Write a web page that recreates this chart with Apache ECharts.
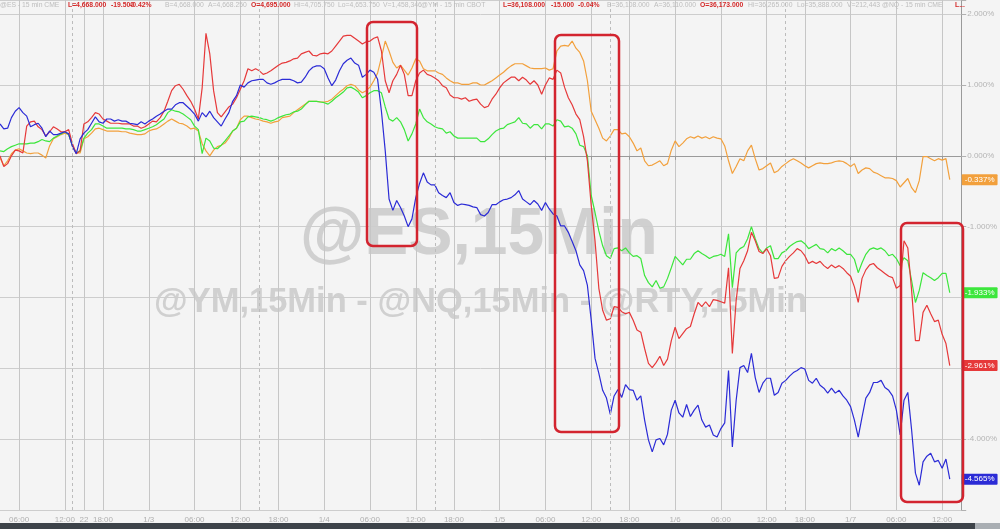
<!DOCTYPE html>
<html><head><meta charset="utf-8">
<script src="https://cdn.jsdelivr.net/npm/echarts@6/dist/echarts.min.js"></script>
<style>html,body{margin:0;padding:0;background:#f4f4f4}#c{width:1000px;height:529px}</style>
</head><body><div id="c"></div>
<script>
// Trading sessions (start, number of 30-minute slots)
const sessions = [['2021-12-31T03:30',27],['2022-01-02T18:00',46],['2022-01-03T18:00',46],['2022-01-04T18:00',46],['2022-01-05T18:00',46],['2022-01-06T18:00',42]];
const tickTimes  = ['12-31 06:00','12-31 12:00','12-31 14:30','01-02 18:00','01-03 00:00','01-03 06:00','01-03 12:00','01-03 18:00','01-04 00:00','01-04 06:00','01-04 12:00','01-04 18:00','01-05 00:00','01-05 06:00','01-05 12:00','01-05 18:00','01-06 00:00','01-06 06:00','01-06 12:00','01-06 18:00','01-07 00:00','01-07 06:00','01-07 12:00'];
const tickLabels = ['06:00','12:00','22','18:00','1/3','06:00','12:00','18:00','1/4','06:00','12:00','18:00','1/5','06:00','12:00','18:00','1/6','06:00','12:00','18:00','1/7','06:00','12:00'];
const sessionBreaks = ['12-31 13:00','01-03 14:30','01-04 14:30','01-05 14:30','01-06 14:30'];

const rty = [0.45,0.38,0.39,0.54,0.63,0.68,0.61,0.56,0.41,0.44,
0.46,0.39,0.27,0.35,0.30,0.30,0.32,0.34,0.31,0.13,
0.03,0.24,0.32,0.37,0.46,0.55,0.48,0.46,0.52,0.52,
0.49,0.51,0.49,0.49,0.46,0.45,0.44,0.48,0.45,0.49,
0.52,0.56,0.59,0.63,0.66,0.66,0.72,0.75,0.75,0.70,
0.65,0.59,0.49,0.61,0.55,0.63,0.54,0.48,0.42,0.52,
0.61,0.77,0.85,1.00,0.97,1.03,1.06,1.07,1.08,1.08,
1.03,1.01,1.03,1.06,1.08,1.08,1.08,1.06,1.03,1.04,
1.11,1.20,1.25,1.27,1.27,1.23,1.10,0.99,1.07,1.20,
1.30,1.35,1.38,1.31,1.28,1.11,1.15,1.21,1.18,1.08,
0.63,0.07,-0.61,-0.77,-0.63,-0.73,-0.85,-1.00,-0.89,-0.59,
-0.39,-0.24,-0.37,-0.41,-0.41,-0.52,-0.56,-0.59,-0.52,-0.66,
-0.70,-0.68,-0.69,-0.70,-0.72,-0.73,-0.83,-0.85,-0.80,-0.69,
-0.69,-0.65,-0.62,-0.61,-0.59,-0.55,-0.49,-0.61,-0.65,-0.69,
-0.63,-0.68,-0.77,-0.66,-0.75,-0.82,-0.85,-0.99,-0.99,-1.08,
-1.21,-1.34,-1.54,-1.62,-1.83,-2.32,-2.86,-3.07,-3.31,-3.42,
-3.65,-3.39,-3.30,-3.41,-3.23,-3.30,-3.31,-3.45,-3.39,-3.73,
-4.01,-4.18,-4.01,-3.99,-4.08,-3.93,-3.59,-3.45,-3.63,-3.69,
-3.51,-3.68,-3.59,-3.52,-3.73,-3.83,-3.80,-3.94,-3.97,-3.85,
-3.77,-3.03,-4.11,-3.45,-2.99,-2.96,-3.06,-2.79,-3.13,-3.34,
-3.21,-3.14,-3.14,-3.38,-3.34,-3.21,-3.17,-3.11,-3.06,-3.03,
-2.99,-3.01,-3.17,-3.21,-3.14,-3.24,-3.28,-3.35,-3.28,-3.35,
-3.31,-3.39,-3.45,-3.54,-3.73,-3.97,-3.69,-3.42,-3.34,-3.20,
-3.20,-3.17,-3.27,-3.31,-3.39,-3.59,-3.94,-3.45,-3.34,-3.87,
-4.48,-4.65,-4.32,-4.24,-4.20,-4.32,-4.30,-4.41,-4.28,-4.565];

const nq = [0.00,-0.15,-0.11,0.00,0.08,0.07,0.04,0.42,0.48,0.49,
0.41,0.37,0.28,0.34,0.41,0.38,0.34,0.34,0.37,0.17,
0.03,0.07,0.45,0.48,0.54,0.61,0.59,0.52,0.49,0.46,
0.46,0.46,0.45,0.45,0.45,0.42,0.42,0.39,0.41,0.45,
0.49,0.48,0.54,0.63,0.77,0.92,0.99,1.01,0.94,0.85,
0.77,0.66,0.52,0.96,1.73,1.44,0.92,0.61,0.55,0.62,
0.69,0.73,0.82,0.94,1.06,1.23,1.20,1.23,1.20,1.15,
1.17,1.20,1.24,1.28,1.31,1.32,1.34,1.37,1.38,1.44,
1.46,1.48,1.42,1.41,1.44,1.45,1.44,1.48,1.55,1.62,
1.69,1.70,1.70,1.66,1.62,1.58,1.61,1.62,1.66,1.68,
1.48,1.06,0.89,1.06,1.15,1.28,1.15,0.85,0.85,1.06,
1.17,1.21,1.15,1.13,1.10,1.06,0.99,0.96,0.86,0.82,
0.82,0.80,0.82,0.77,0.79,0.80,0.73,0.68,0.70,0.80,
0.87,0.96,1.03,1.07,1.11,1.11,1.06,1.11,1.07,1.01,
1.06,1.00,0.87,1.00,1.10,1.08,1.21,1.17,0.97,0.82,
0.72,0.59,0.51,0.27,-0.07,-0.70,-1.20,-1.87,-2.18,-2.32,
-2.30,-2.13,-2.14,-2.20,-2.23,-2.21,-2.32,-2.46,-2.49,-2.72,
-2.93,-2.99,-2.92,-2.83,-2.96,-2.87,-2.61,-2.42,-2.58,-2.51,
-2.44,-2.41,-2.23,-2.07,-2.13,-2.06,-2.13,-2.03,-2.04,-2.06,
-2.08,-1.58,-2.79,-2.04,-1.59,-1.48,-1.34,-1.08,-1.20,-1.35,
-1.38,-1.31,-1.41,-1.73,-1.72,-1.56,-1.48,-1.42,-1.37,-1.31,
-1.34,-1.41,-1.52,-1.49,-1.52,-1.49,-1.55,-1.59,-1.54,-1.58,
-1.55,-1.59,-1.65,-1.70,-1.85,-2.07,-1.73,-1.61,-1.54,-1.52,
-1.58,-1.62,-1.66,-1.70,-1.72,-1.87,-1.83,-1.20,-1.30,-1.90,
-2.61,-2.61,-2.21,-2.11,-2.23,-2.34,-2.32,-2.52,-2.65,-2.961];

const es = [0.07,0.06,0.10,0.13,0.15,0.17,0.17,0.17,0.18,0.18,
0.20,0.23,0.21,0.20,0.25,0.28,0.31,0.34,0.30,0.14,
0.04,0.07,0.25,0.32,0.37,0.45,0.45,0.42,0.39,0.39,
0.39,0.39,0.39,0.38,0.38,0.37,0.35,0.35,0.37,0.39,
0.41,0.44,0.48,0.52,0.61,0.65,0.63,0.62,0.59,0.55,
0.51,0.42,0.37,0.03,0.25,0.21,0.11,0.10,0.15,0.21,
0.28,0.35,0.39,0.48,0.49,0.55,0.56,0.55,0.54,0.52,
0.51,0.49,0.51,0.54,0.56,0.58,0.59,0.62,0.63,0.66,
0.72,0.77,0.77,0.77,0.76,0.75,0.73,0.77,0.82,0.86,
0.90,0.96,0.97,0.94,0.90,0.82,0.85,0.89,0.92,0.92,
0.89,0.69,0.52,0.49,0.54,0.48,0.37,0.21,0.31,0.45,
0.66,0.54,0.48,0.45,0.41,0.39,0.38,0.32,0.34,0.28,
0.25,0.25,0.25,0.25,0.25,0.25,0.20,0.20,0.24,0.30,
0.35,0.38,0.39,0.44,0.46,0.48,0.54,0.46,0.45,0.39,
0.44,0.44,0.38,0.45,0.45,0.42,0.51,0.49,0.41,0.42,
0.39,0.31,0.15,0.13,0.00,-0.56,-0.80,-1.06,-1.27,-1.41,
-1.45,-1.31,-1.30,-1.34,-1.30,-1.37,-1.42,-1.41,-1.45,-1.69,
-1.79,-1.85,-1.76,-1.87,-1.85,-1.73,-1.58,-1.42,-1.48,-1.54,
-1.46,-1.46,-1.38,-1.34,-1.38,-1.41,-1.45,-1.42,-1.41,-1.39,
-1.42,-1.10,-1.86,-1.37,-1.31,-1.28,-1.17,-1.00,-1.17,-1.31,
-1.37,-1.30,-1.27,-1.45,-1.45,-1.37,-1.34,-1.28,-1.24,-1.21,
-1.20,-1.24,-1.31,-1.28,-1.25,-1.31,-1.32,-1.37,-1.31,-1.34,
-1.30,-1.34,-1.39,-1.39,-1.46,-1.65,-1.51,-1.39,-1.32,-1.30,
-1.32,-1.30,-1.34,-1.41,-1.39,-1.45,-1.55,-1.44,-1.48,-1.76,
-2.07,-1.90,-1.65,-1.69,-1.72,-1.76,-1.72,-1.66,-1.66,-1.933];

const ym = [-0.03,-0.14,-0.07,0.03,0.08,0.10,0.07,0.04,0.03,0.04,
0.04,0.01,-0.03,0.14,0.24,0.27,0.30,0.32,0.30,0.14,
0.04,0.04,0.24,0.27,0.32,0.38,0.39,0.37,0.35,0.35,
0.35,0.35,0.34,0.34,0.32,0.31,0.30,0.30,0.31,0.35,
0.37,0.38,0.41,0.45,0.49,0.52,0.49,0.46,0.45,0.42,
0.38,0.39,0.35,0.17,0.07,0.00,0.08,0.13,0.15,0.18,
0.25,0.35,0.39,0.51,0.56,0.56,0.54,0.52,0.51,0.49,
0.48,0.46,0.48,0.49,0.54,0.55,0.56,0.61,0.65,0.69,
0.73,0.77,0.77,0.77,0.76,0.76,0.77,0.80,0.85,0.90,
0.94,0.99,1.01,0.99,0.93,0.89,0.92,0.97,1.06,1.17,
1.39,1.62,1.48,1.32,1.24,1.28,1.21,1.14,1.24,1.37,
1.34,1.23,1.20,1.20,1.20,1.17,1.15,1.10,1.06,1.03,
1.03,1.01,1.01,1.01,1.03,1.03,1.00,1.00,1.03,1.06,
1.10,1.14,1.18,1.23,1.27,1.30,1.30,1.30,1.27,1.24,
1.23,1.23,1.23,1.24,1.21,1.23,1.48,1.55,1.56,1.55,
1.62,1.52,1.46,1.34,1.06,0.63,0.51,0.39,0.25,0.21,
0.28,0.37,0.37,0.31,0.32,0.27,0.18,0.07,0.11,-0.07,
-0.14,-0.13,-0.10,-0.07,-0.14,-0.11,0.08,0.21,0.13,0.18,
0.24,0.27,0.25,0.28,0.25,0.27,0.24,0.27,0.25,0.24,
0.14,-0.07,-0.25,-0.15,-0.04,-0.07,0.07,0.15,-0.04,-0.20,
-0.18,-0.14,-0.10,-0.24,-0.21,-0.15,-0.11,-0.07,-0.04,-0.07,
-0.10,-0.14,-0.17,-0.14,-0.11,-0.10,-0.11,-0.11,-0.10,-0.08,
-0.07,-0.08,-0.11,-0.15,-0.11,-0.25,-0.20,-0.17,-0.18,-0.23,
-0.25,-0.28,-0.31,-0.31,-0.32,-0.35,-0.44,-0.38,-0.32,-0.45,
-0.52,-0.35,-0.01,-0.01,-0.04,-0.07,-0.04,-0.06,-0.04,-0.337];

const yTickShown = [2, 1, 0, -1, -4];

// ---- build category axis from sessions ----
const pad = n => (n < 10 ? '0' : '') + n;
const categories = [];
sessions.forEach(([start, n]) => {
  const t0 = Date.parse(start + ':00Z');
  for (let k = 0; k < n; k++) {
    const d = new Date(t0 + k * 1800000);
    categories.push(pad(d.getUTCMonth() + 1) + '-' + pad(d.getUTCDate()) + ' ' + pad(d.getUTCHours()) + ':' + pad(d.getUTCMinutes()));
  }
});
const tickMap = {};
tickTimes.forEach((t, i) => tickMap[t] = tickLabels[i]);
const isTick = (idx, val) => Object.prototype.hasOwnProperty.call(tickMap, val);

const chart = echarts.init(document.getElementById('c'), null, {renderer: 'canvas'});
const mkSeries = (name, data, color, extra) => Object.assign({
  name, type: 'line', data, showSymbol: false, symbol: 'none',
  lineStyle: {color, width: 1.2}, itemStyle: {color},
  emphasis: {disabled: true}, animation: false,
  endLabel: {show: true, distance: 12, formatter: p => Number(p.value).toFixed(3) + '%',
    backgroundColor: color, color: '#fff', fontSize: 8, fontFamily: 'Liberation Sans, Arial',
    padding: [2, 3, 1, 3], borderRadius: 1}
}, extra || {});

const gray = '#bdbdbd';
const hdr = [
  ['@ES - 15 min CME', 0, 0], ['L=4,668.000', 68, 1], ['-19.500', 111, 1], ['-0.42%', 130, 1],
  ['B=4,668.000', 165, 0], ['A=4,668.250', 208, 0], ['O=4,695.000', 251, 1], ['Hi=4,705.750', 294, 0],
  ['Lo=4,653.750', 338, 0], ['V=1,458,346', 383, 0], ['@YM - 15 min CBOT', 421, 0],
  ['L=36,108.000', 503, 1], ['-15.000', 551, 1], ['-0.04%', 578, 1], ['B=36,108.000', 607, 0],
  ['A=36,110.000', 654, 0], ['O=36,173.000', 700, 1], ['Hi=36,265.000', 748, 0], ['Lo=35,888.000', 797, 0],
  ['V=212,443', 847, 0], ['@NQ - 15 min CME', 882, 0], ['L...', 955, 1]
];
const graphics = [
  {type: 'text', z: -10, x: 300, y: 203, style: {text: '@ES,15Min', font: 'bold 66px "Liberation Sans", Arial', fill: '#d0d0d0'}},
  {type: 'text', z: -10, x: 154, y: 285, style: {text: '@YM,15Min - @NQ,15Min - @RTY,15Min', font: 'bold 34.5px "Liberation Sans", Arial', fill: '#d0d0d0'}},
  {type: 'rect', z: 100, shape: {x: 367, y: 22, width: 50, height: 224, r: 6}, style: {fill: 'none', stroke: '#d3242f', lineWidth: 2.5}},
  {type: 'rect', z: 100, shape: {x: 555, y: 35, width: 64, height: 397, r: 6}, style: {fill: 'none', stroke: '#d3242f', lineWidth: 2.5}},
  {type: 'rect', z: 100, shape: {x: 901, y: 223, width: 62, height: 279, r: 6}, style: {fill: 'none', stroke: '#d3242f', lineWidth: 2.5}},
  {type: 'rect', z: 100, shape: {x: 0, y: 523, width: 975, height: 6}, style: {fill: '#3d4349'}},
  {type: 'rect', z: 100, shape: {x: 975, y: 523, width: 25, height: 6}, style: {fill: '#a9aeb3'}}
];
hdr.forEach(([t, x, red]) => graphics.push({type: 'text', z: 100, x, y: 2,
  style: {text: t, font: (red ? 'bold ' : '') + '6.8px "Liberation Sans", Arial', fill: red ? '#d42a2a' : gray}}));

chart.setOption({
  backgroundColor: '#f4f4f4',
  animation: false,
  grid: {left: 0, right: 33, top: -1, bottom: 19},
  xAxis: {
    type: 'category', data: categories, boundaryGap: false, offset: 2,
    axisLine: {lineStyle: {color: '#9a9a9a'}},
    axisTick: {show: true, interval: isTick, length: 4, lineStyle: {color: '#9a9a9a'}},
    axisLabel: {interval: isTick, formatter: v => tickMap[v] || '', color: '#b0b0b0', fontSize: 8, margin: 4, fontFamily: 'Liberation Sans, Arial'},
    splitLine: {show: true, interval: isTick, lineStyle: {color: '#c6c6c6', width: 1}}
  },
  yAxis: {
    type: 'value', position: 'right', min: -5, max: 2.2, interval: 1,
    axisLine: {show: true, lineStyle: {color: '#9a9a9a'}},
    axisTick: {show: true, length: 5, lineStyle: {color: '#b0b0b0'}},
    axisLabel: {color: '#b4b4b4', fontSize: 8, margin: 6, fontFamily: 'Liberation Sans, Arial',
      formatter: v => yTickShown.some(t => Math.abs(t - v) < 1e-9) ? v.toFixed(3) + '%' : ''},
    splitLine: {show: true, lineStyle: {color: '#cdcdcd', width: 1}}
  },
  series: [
    mkSeries('YM', ym, '#f2a03c', {markLine: {silent: true, symbol: ['none', 'none'], label: {show: false},
      lineStyle: {type: [3, 3], color: '#bcbcbc', width: 1}, data: sessionBreaks.map(t => ({xAxis: t}))}}),
    mkSeries('ES', es, '#3ce63c'),
    mkSeries('NQ', nq, '#e6393a'),
    mkSeries('RTY', rty, '#2b2bd6')
  ],
  graphic: graphics
});
</script></body></html>
